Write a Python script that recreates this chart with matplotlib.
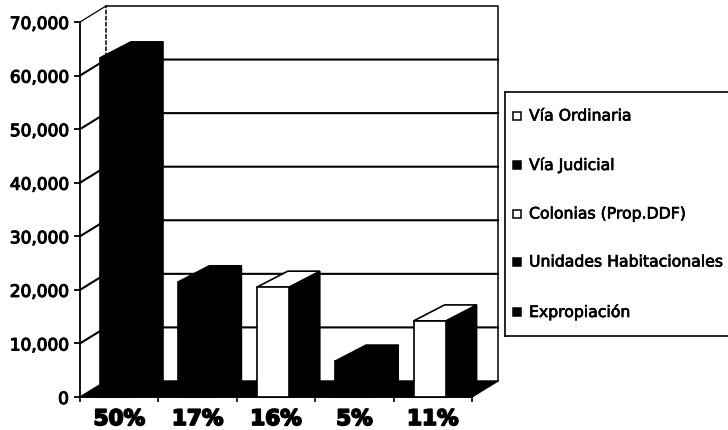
import matplotlib
matplotlib.use("Agg")
import matplotlib.pyplot as plt
import matplotlib.patheffects as pe
from matplotlib.patches import Polygon, Rectangle

series = ["Expropiación", "Unidades Habitacionales", "Colonias (Prop.DDF)", "Vía Judicial", "Vía Ordinaria"]
values = [63300, 21500, 20500, 6700, 14200]
colors = ["black", "black", "white", "black", "white"]
shares = ["50%", "17%", "16%", "5%", "11%"]
y_ticks = [0, 10000, 20000, 30000, 40000, 50000, 60000, 70000]

W, H = 728, 431
# depth of the 3d box, in data units
wall_dx = 0.332
wall_dy = 2990
bar_dx = 0.395
bar_w = 0.41
bar_off = 0.255

fig = plt.figure(figsize=(W / 100, H / 100), dpi=100)
ax = fig.add_axes([80 / W, 1 - 398 / H, 392 / W, 375 / H])
ax.set_xlim(0, 5)
ax.set_ylim(0, 70000)
ax.patch.set_visible(False)
for s in ["top", "right"]:
    ax.spines[s].set_visible(False)
ax.spines["left"].set_linewidth(1.3)
ax.spines["bottom"].set_linewidth(1.3)

# walls and gridlines
ax.plot([wall_dx, wall_dx], [wall_dy, 70000 + wall_dy], color="black", lw=1.1, ls=(0, (3, 1)), clip_on=False)
ax.plot([wall_dx, 5 + wall_dx, 5 + wall_dx], [70000 + wall_dy, 70000 + wall_dy, wall_dy],
        color="black", lw=1.1, clip_on=False)
ax.plot([0, wall_dx], [70000, 70000 + wall_dy], color="black", lw=0.9, clip_on=False)
for v in y_ticks[1:-1]:
    ax.plot([0, wall_dx, 5 + wall_dx], [v, v + wall_dy, v + wall_dy], color="black", lw=1.5,
            clip_on=False, zorder=1)

# floor
ax.add_patch(Polygon([(0, 0), (5, 0), (5 + wall_dx, wall_dy), (wall_dx, wall_dy)], closed=True,
                     facecolor="black", edgecolor="black", lw=1, clip_on=False, zorder=2))

# bars, each one front face + side + top
for i, v in enumerate(values):
    x0 = i + bar_off
    x1 = x0 + bar_w
    top = [(x0, v), (x1, v), (x1 + bar_dx, v + wall_dy), (x0 + bar_dx, v + wall_dy)]
    side = [(x1, 0), (x1 + bar_dx, wall_dy), (x1 + bar_dx, v + wall_dy), (x1, v)]
    ax.add_patch(Polygon(side, closed=True, facecolor="black", edgecolor="black", lw=1, clip_on=False, zorder=3))
    ax.add_patch(Polygon(top, closed=True, facecolor=colors[i], edgecolor="black", lw=1.2, clip_on=False, zorder=3))
    ax.add_patch(Rectangle((x0, 0), bar_w, v, facecolor=colors[i], edgecolor="black", lw=1.2, clip_on=False, zorder=4))

ax.set_yticks(y_ticks)
ax.set_yticklabels([f"{v:,}" for v in y_ticks], fontsize=12.2, family="DejaVu Sans",
                   path_effects=[pe.withStroke(linewidth=0.8, foreground="black")])
ax.tick_params(axis="y", length=4.5, width=1.3, pad=3.5)
ax.set_xticks(range(6))
ax.set_xticklabels([])
ax.tick_params(axis="x", length=3.5, width=1.2)

for i, s in enumerate(shares):
    ax.annotate(s, xy=(i + 0.5, 0), xycoords=("data", "data"), xytext=(0, -22), textcoords="offset pixels",
                ha="center", va="center", fontsize=15.5, fontweight="bold", family="DejaVu Sans",
                path_effects=[pe.withStroke(linewidth=1.3, foreground="black")])

# legend box runs off the right side
lg = fig.add_axes([505 / W, 1 - 337 / H, (W - 505 + 3) / W, 244 / H])
lg.set_xlim(505, W + 3)
lg.set_ylim(337, 93)
lg.set_xticks([])
lg.set_yticks([])
for s in lg.spines.values():
    s.set_linewidth(1.2)
legend_y = [313, 263, 215, 166, 117]
for i, name in enumerate(series):
    lg.add_patch(Rectangle((513, legend_y[i] - 4), 8, 8, facecolor=colors[i], edgecolor="black", lw=1.1))
    lg.text(529, legend_y[i], name, fontsize=11.3, va="center", ha="left", family="DejaVu Sans",
            path_effects=[pe.withStroke(linewidth=0.5, foreground="black")])

fig.savefig("out.png", dpi=100)
